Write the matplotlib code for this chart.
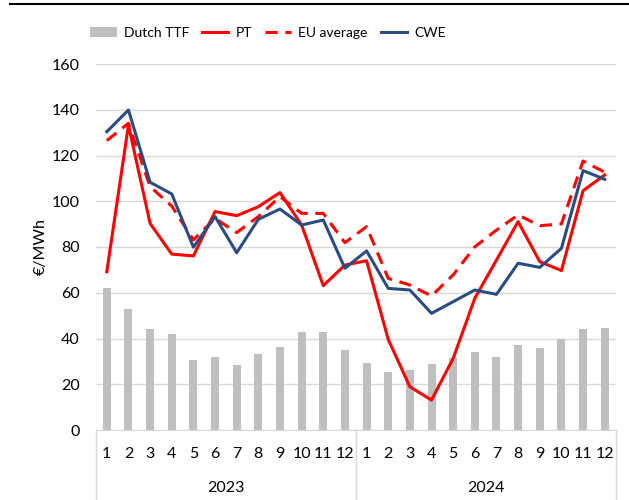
import matplotlib.pyplot as plt
from matplotlib.lines import Line2D
import numpy as np

plt.rcParams['font.family'] = ['Lato', 'DejaVu Sans']

months = [str(m) for m in range(1, 13)] * 2
years = ['2023', '2024']

ttf = [62.2, 52.9, 44.0, 41.8, 30.6, 32.0, 28.6, 33.1, 36.4, 43.0, 43.0, 35.0,
       29.4, 25.2, 26.2, 28.9, 31.3, 34.0, 31.9, 37.3, 35.9, 39.6, 44.2, 44.6]
pt = [69.2, 133.3, 90.3, 76.9, 76.1, 95.5, 93.7, 97.6, 103.8, 89.6, 63.1, 72.1,
      74.0, 39.6, 18.9, 13.1, 31.3, 57.6, 74.3, 91.1, 73.6, 69.7, 104.6, 111.5]
eu_avg = [126.5, 134.1, 106.4, 97.9, 83.1, 92.5, 86.3, 93.3, 102.0, 94.7, 94.7, 81.9,
          88.9, 66.3, 63.4, 58.6, 67.8, 80.1, 87.4, 94.0, 89.3, 90.1, 117.6, 112.7]
cwe = [130.4, 139.9, 108.3, 103.2, 79.9, 93.3, 77.5, 92.1, 96.6, 89.6, 91.8, 70.7,
       78.3, 61.9, 61.2, 51.0, 56.1, 61.2, 59.3, 72.9, 71.1, 79.4, 113.4, 109.6]

x = np.arange(len(months))

fig = plt.figure(figsize=(6.29, 5.0), dpi=100)
ax = fig.add_axes([0.1526, 0.14, 0.826, 0.732])

bars = ax.bar(x, ttf, width=0.37, color='#BFBFBF', label='Dutch TTF', zorder=2)
l_pt, = ax.plot(x, pt, color='#FF0000', lw=2.2, label='PT', zorder=3)
l_eu, = ax.plot(x, eu_avg, color='#FF0000', lw=2.2, ls=(0, (4, 2.5)), label='EU average', zorder=3)
l_cwe, = ax.plot(x, cwe, color='#2B4C7E', lw=2.2, label='CWE', zorder=4)

ax.set_xlim(-0.5, len(months) - 0.5)
ax.set_ylim(0, 160)
ax.set_yticks(range(0, 161, 20))
ax.grid(axis='y', color='#D9D9D9', lw=1, zorder=0)
ax.set_axisbelow(True)
for s in ['top', 'right', 'left']:
    ax.spines[s].set_visible(False)
ax.spines['bottom'].set_color('#D9D9D9')

ax.set_xticks(x)
ax.set_xticklabels(months, fontsize=11.5)
ax.tick_params(axis='x', length=0, pad=12)
ax.tick_params(axis='y', length=0, labelsize=11.5, pad=11.5)
ax.set_ylabel('€/MWh', fontsize=11.5)
ax.yaxis.set_label_coords(-0.092, 0.5)

# year groups under the month labels
trans = ax.get_xaxis_transform()
for b in [-0.5, 11.5, 23.5]:
    ax.plot([b, b], [0, -0.2], transform=trans, color='#D9D9D9', lw=1, clip_on=False)
for i, yr in enumerate(years):
    ax.text(i * 12 + 5.5, -0.158, yr, transform=trans, ha='center', va='center', fontsize=11.5)

fig.add_artist(Line2D([10 / 629, 1], [0.992, 0.992], color='black', lw=1.5))

fig.legend([bars, l_pt, l_eu, l_cwe], ['Dutch TTF', 'PT', 'EU average', 'CWE'],
           loc='center', bbox_to_anchor=(268 / 629, 1 - 33 / 500), ncol=4, frameon=False,
           fontsize=10, handlelength=1.9, columnspacing=0.95, handletextpad=0.5)

fig.savefig('out.png', dpi=100)
